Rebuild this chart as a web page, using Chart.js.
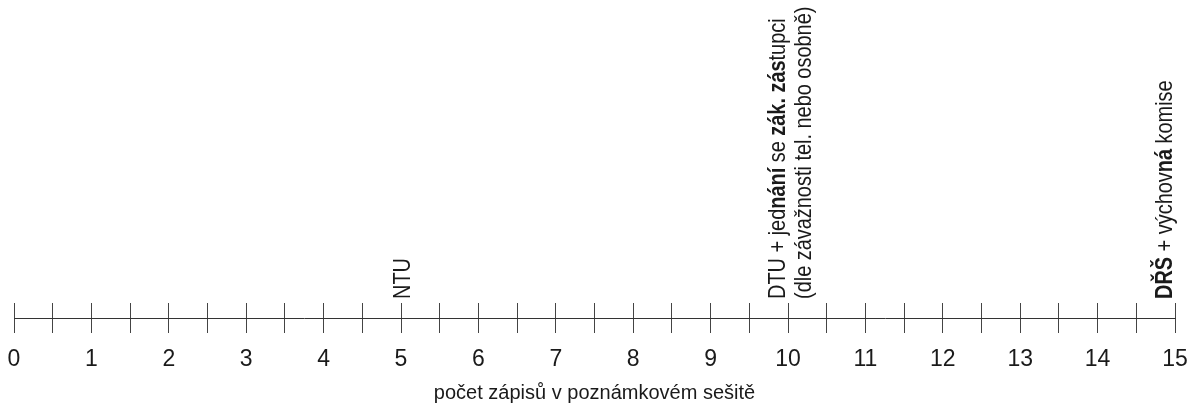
<!DOCTYPE html>
<html>
<head>
<meta charset="utf-8">
<script src="https://cdn.jsdelivr.net/npm/chart.js@4.4.1/dist/chart.umd.min.js"></script>
<style>
  html, body { margin: 0; padding: 0; background: #fff; }
</style>
</head>
<body>
<canvas id="chart" width="1189" height="403"></canvas>
<script>
// axis range
const axisMin = 0
const axisMax = 15
const axisStep = 0.5
const axisTitle = 'počet zápisů v poznámkovém sešitě'

// vertical labels standing on the axis
const markerValues = [5, 10, 15]
const markerTexts = [
    [[['NTU', false]]],
    [
        [['DTU + jed', false], ['nání', true], [' se ', false], ['zák. zás', true], ['tupci', false]],
        [['(dle závažnosti tel. nebo osobně)', false]]
    ],
    [[['DŘŠ', true], [' + výchov', false], ['ná', true], [' komise', false]]]
]
const markerAlign = ['center', 'end', 'end']

const fontFamily = '"Liberation Sans Narrow", "Liberation Sans", Arial, sans-serif'
const textColor = '#1a1a1a'
const narrow = 0.83   // squeeze to look like a narrow face

const markerLabels = {
    id: 'markerLabels',
    afterDraw(chart) {
        const ctx = chart.ctx
        const xs = chart.scales.x
        const top = chart.chartArea.top
        ctx.fillStyle = textColor
        ctx.textAlign = 'left'
        ctx.textBaseline = 'alphabetic'
        markerValues.forEach((v, i) => {
            const px = xs.getPixelForValue(v)
            // baseline of first line (text is rotated, baseline runs vertically)
            const base = markerAlign[i] === 'center' ? px + 8.5 : px - 3
            markerTexts[i].forEach((segs, li) => {
                ctx.save()
                ctx.translate(base + li * 26, top - 4)
                ctx.rotate(-Math.PI / 2)
                ctx.scale(narrow, 1)
                let off = 0
                segs.forEach(([t, bold]) => {
                    ctx.font = (bold ? 'bold ' : '') + '24px ' + fontFamily
                    ctx.fillText(t, off, 0)
                    off += ctx.measureText(t).width
                })
                ctx.restore()
            })
        })
    }
}

new Chart(document.getElementById('chart'), {
    type: 'scatter',
    data: {
        datasets: [{
            data: markerValues.map(v => ({ x: v, y: 0 })),
            pointRadius: 0,
            pointHoverRadius: 0
        }]
    },
    options: {
        responsive: false,
        animation: false,
        devicePixelRatio: 1,
        layout: {
            padding: { top: 303, left: 0, right: 0, bottom: 0 }
        },
        scales: {
            x: {
                type: 'linear',
                min: axisMin,
                max: axisMax,
                afterFit: scale => {
                    scale.height = 85
                    scale.paddingLeft = 14
                    scale.paddingRight = 14
                },
                border: { display: true, color: '#333', width: 1 },
                grid: {
                    display: true,
                    drawOnChartArea: true,
                    drawTicks: true,
                    tickLength: 15,
                    color: '#444',
                    tickColor: '#444',
                    lineWidth: 1
                },
                ticks: {
                    stepSize: axisStep,
                    autoSkip: false,
                    maxRotation: 0,
                    padding: 13,
                    color: textColor,
                    font: { family: fontFamily, size: 23 },
                    callback: v => Number.isInteger(v) ? String(v) : ''
                },
                title: {
                    display: true,
                    text: axisTitle,
                    color: textColor,
                    font: { family: fontFamily, size: 20, lineHeight: 1 },
                    padding: { top: 4, bottom: 0 }
                }
            },
            y: {
                display: false,
                min: 0,
                max: 1
            }
        },
        plugins: {
            legend: { display: false },
            tooltip: { enabled: false }
        }
    },
    plugins: [markerLabels]
})
</script>
</body>
</html>
